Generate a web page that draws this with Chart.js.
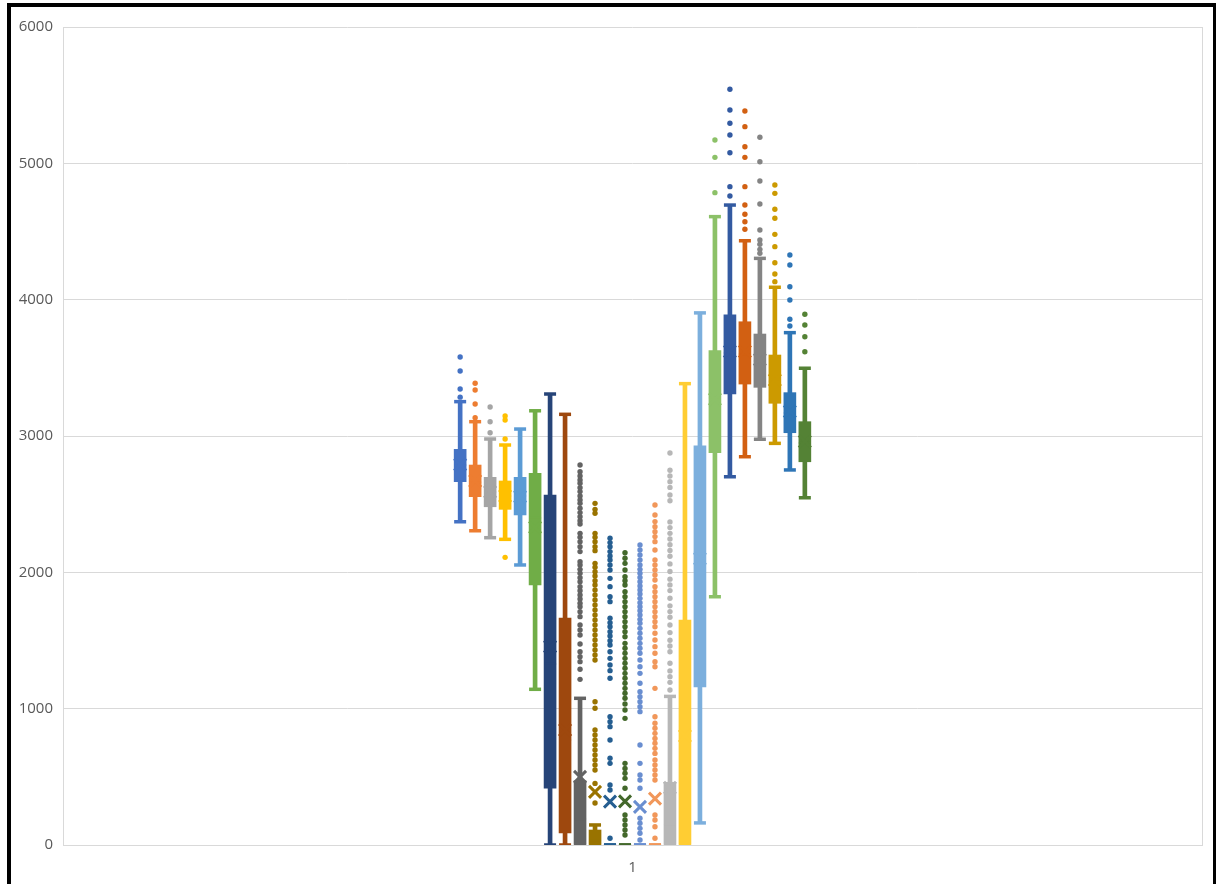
<!DOCTYPE html>
<html>
<head>
<meta charset="utf-8">
<script src="https://cdn.jsdelivr.net/npm/chart.js@4"></script>
<style>
  html, body { margin: 0; padding: 0; background: #fff; }
  #wrap { position: relative; width: 1216px; height: 884px; overflow: hidden; }
  #frame {
    position: absolute; left: 7px; top: 3px; width: 1202px; height: 900px;
    border: 4px solid #000; pointer-events: none;
  }
</style>
</head>
<body>
<div id="wrap">
  <canvas id="boxChart" width="1216" height="884"></canvas>
  <div id="frame"></div>
</div>
<script>
// カテゴリは1つだけ、その中に24系列の箱ひげ図
const categories = ['1'];
const yTicks = [0, 1000, 2000, 3000, 4000, 5000, 6000];

const seriesColors = [
  '#4472C4', '#ED7D31', '#A5A5A5', '#FFC000', '#5B9BD5', '#70AD47',
  '#264478', '#9E480E', '#636363', '#997300', '#255E91', '#43682B',
  '#698ED0', '#F1975A', '#B7B7B7', '#FFCD33', '#7CAFDD', '#8CC168',
  '#335AA1', '#D26012', '#848484', '#CC9A00', '#2E75B6', '#548235'
];

// 各系列の統計値
const mins    = [2371, 2305, 2254, 2242, 2054, 1142,    0,    0,    0,   0,   0,   0,   0,   0,    0,    0,  162, 1821, 2701, 2848, 2976, 2946, 2751, 2547];
const q1s     = [2665, 2555, 2481, 2462, 2421, 1907,  416,   88,    0,   0,   0,   0,   0,   0,    0,    0, 1159, 2878, 3308, 3381, 3357, 3240, 3024, 2811];
const medians = [2787, 2660, 2590, 2560, 2560, 2400, 1328,  770,  190,  30,   0,   0,   0,   0,  150,  374, 2149, 3280, 3609, 3600, 3550, 3400, 3170, 2950];
const q3s     = [2902, 2787, 2697, 2670, 2697, 2726, 2567, 1665,  470, 110,   0,   0,   0,   0,  460, 1650, 2927, 3626, 3888, 3838, 3748, 3594, 3318, 3105];
const maxs    = [3252, 3105, 2978, 2934, 3051, 3185, 3308, 3159, 1076, 147,   0,   0,   0,   0, 1090, 3384, 3903, 4609, 4694, 4432, 4303, 4091, 3758, 3497];
const means   = [2790, 2670, 2590, 2560, 2555, 2330, 1455,  843,  500, 390, 318, 320, 280, 340,  420,  800, 2100, 3270, 3620, 3620, 3560, 3410, 3180, 2960];

// 外れ値（系列ごと）
const outliers = [
  [3580, 3477, 3345, 3285],
  [3387, 3337, 3235, 3134],
  [3213, 3105, 3024],
  [3147, 3117, 2978, 2110],
  [],
  [],
  [],
  [],
  [2787, 2738, 2707, 2677, 2653, 2621, 2592, 2560, 2531, 2506, 2470, 2438, 2408, 2379, 2355,
   2286, 2257, 2225, 2188, 2152, 2078, 2054, 2022, 1993, 1961, 1931, 1895, 1865, 1834, 1804,
   1773, 1748, 1711, 1675, 1614, 1577, 1540, 1474, 1418, 1381, 1345, 1289, 1215],
  [2506, 2462, 2433, 2286, 2257, 2225, 2188, 2159, 2066, 2037, 2005, 1973, 1939, 1907, 1870,
   1834, 1797, 1760, 1724, 1687, 1650, 1614, 1577, 1540, 1504, 1467, 1430, 1394, 1357,
   1051, 1003, 844, 807, 770, 734, 697, 660, 623, 587, 550, 452, 308],
  [2250, 2218, 2188, 2152, 2120, 2090, 2054, 2017, 1956, 1895, 1821, 1785, 1663, 1631, 1601,
   1565, 1533, 1499, 1467, 1418, 1369, 1320, 1279, 1223, 941, 904, 868, 770, 636, 599, 440, 403, 49],
  [2144, 2103, 2066, 2017, 1968, 1939, 1907, 1858, 1821, 1785, 1748, 1711, 1675, 1638, 1601,
   1565, 1528, 1479, 1443, 1406, 1369, 1333, 1296, 1259, 1223, 1186, 1149, 1113, 1076, 1034,
   990, 929, 599, 562, 526, 489, 416, 220, 183, 147, 110, 73],
  [2200, 2164, 2127, 2090, 2054, 2022, 1993, 1963, 1931, 1900, 1870, 1841, 1809, 1777, 1748,
   1719, 1687, 1655, 1626, 1589, 1553, 1516, 1479, 1443, 1406, 1357, 1308, 1259, 1186, 1125,
   1088, 1051, 1014, 978, 734, 599, 513, 477, 416, 196, 159, 122, 86, 37],
  [2494, 2421, 2372, 2335, 2298, 2262, 2225, 2164, 2090, 2054, 2017, 1980, 1944, 1895, 1858,
   1821, 1785, 1748, 1711, 1675, 1638, 1601, 1553, 1504, 1455, 1406, 1345, 1308, 1149, 941,
   893, 856, 819, 782, 746, 709, 672, 623, 587, 550, 513, 477, 220, 183, 134, 49],
  [2875, 2749, 2707, 2665, 2623, 2567, 2525, 2370, 2328, 2286, 2244, 2202, 2160, 2118, 2062,
   2006, 1950, 1908, 1866, 1810, 1754, 1712, 1670, 1614, 1558, 1502, 1460, 1417, 1333, 1277,
   1235, 1193, 1137],
  [],
  [],
  [4785, 5044, 5171],
  [4760, 4829, 5078, 5208, 5294, 5391, 5543],
  [4516, 4572, 4626, 4694, 4829, 5044, 5122, 5269, 5384],
  [4340, 4369, 4406, 4438, 4511, 4702, 4870, 5012, 5191],
  [4132, 4188, 4271, 4389, 4479, 4597, 4663, 4780, 4841],
  [3807, 3856, 3998, 4095, 4254, 4328],
  [3618, 3728, 3814, 3893]
];

// 系列は x = 0..23 に並べ、カテゴリ "1" はその中央
const center = (seriesColors.length - 1) / 2;
const halfRange = 38;
const xMin = center - halfRange;
const xMax = center + halfRange;

const colorOf = ctx => seriesColors[ctx.raw ? ctx.raw.x : ctx.dataIndex];

const whiskerData = mins.map((v, i) => ({ x: i, y: [v, maxs[i]] }));
const boxData = q1s.map((v, i) => ({ x: i, y: [v, q3s[i]] }));
const capData = [];
mins.forEach((v, i) => {
  capData.push({ x: i, y: v });
  capData.push({ x: i, y: maxs[i] });
});
const medianData = medians.map((v, i) => ({ x: i, y: v }));
const meanData = means.map((v, i) => ({ x: i, y: v }));
const outlierData = [];
outliers.forEach((list, i) => list.forEach(v => outlierData.push({ x: i, y: v })));

const ctx = document.getElementById('boxChart').getContext('2d');
const chart = new Chart(ctx, {
  type: 'bar',
  data: {
    datasets: [
      {
        type: 'scatter', data: outlierData, order: 0,
        pointRadius: 2.7, pointBorderWidth: 0,
        pointBackgroundColor: colorOf, pointBorderColor: colorOf
      },
      {
        type: 'scatter', data: meanData, order: 1,
        pointStyle: 'crossRot', pointRadius: 8.5, pointBorderWidth: 3,
        pointBorderColor: colorOf, pointBackgroundColor: colorOf
      },
      {
        type: 'scatter', data: medianData, order: 2,
        pointStyle: 'line', pointRadius: 6, pointBorderWidth: 2,
        pointBorderColor: colorOf
      },
      {
        type: 'bar', data: boxData, order: 3,
        backgroundColor: seriesColors, barThickness: 12, grouped: false,
        borderWidth: 0
      },
      {
        type: 'scatter', data: capData, order: 4,
        pointStyle: 'line', pointRadius: 6, pointBorderWidth: 3.5,
        pointBorderColor: colorOf
      },
      {
        type: 'bar', data: whiskerData, order: 5,
        backgroundColor: seriesColors, barThickness: 4, grouped: false,
        borderWidth: 0
      }
    ]
  },
  options: {
    responsive: false,
    animation: false,
    layout: { padding: { top: 27, right: 13, left: 0, bottom: 0 } },
    plugins: { legend: { display: false }, tooltip: { enabled: false } },
    scales: {
      x: {
        type: 'linear',
        min: xMin,
        max: xMax,
        offset: false,
        afterBuildTicks: scale => {
          scale.ticks = [{ value: xMin }, { value: center }, { value: xMax }];
        },
        afterFit: scale => { scale.height = 39; },
        ticks: {
          autoSkip: false,
          maxRotation: 0,
          padding: 14,
          color: '#595959',
          font: { family: 'Open Sans', size: 15 },
          callback: v => (v === center ? categories[0] : '')
        },
        grid: {
          offset: false,
          drawTicks: false,
          color: c => (c.tick && c.tick.value === center ? 'rgba(0,0,0,0)' : '#d9d9d9')
        },
        border: { display: true, color: '#d9d9d9' }
      },
      y: {
        min: 0,
        max: 6000,
        afterBuildTicks: scale => {
          scale.ticks = yTicks.map(v => ({ value: v }));
        },
        afterFit: scale => { scale.width = 63; },
        ticks: {
          padding: 10,
          color: '#595959',
          font: { family: 'Open Sans', size: 15 },
          callback: v => String(v)
        },
        grid: { drawTicks: false, color: '#d9d9d9' },
        border: { display: false }
      }
    }
  }
});
</script>
</body>
</html>
